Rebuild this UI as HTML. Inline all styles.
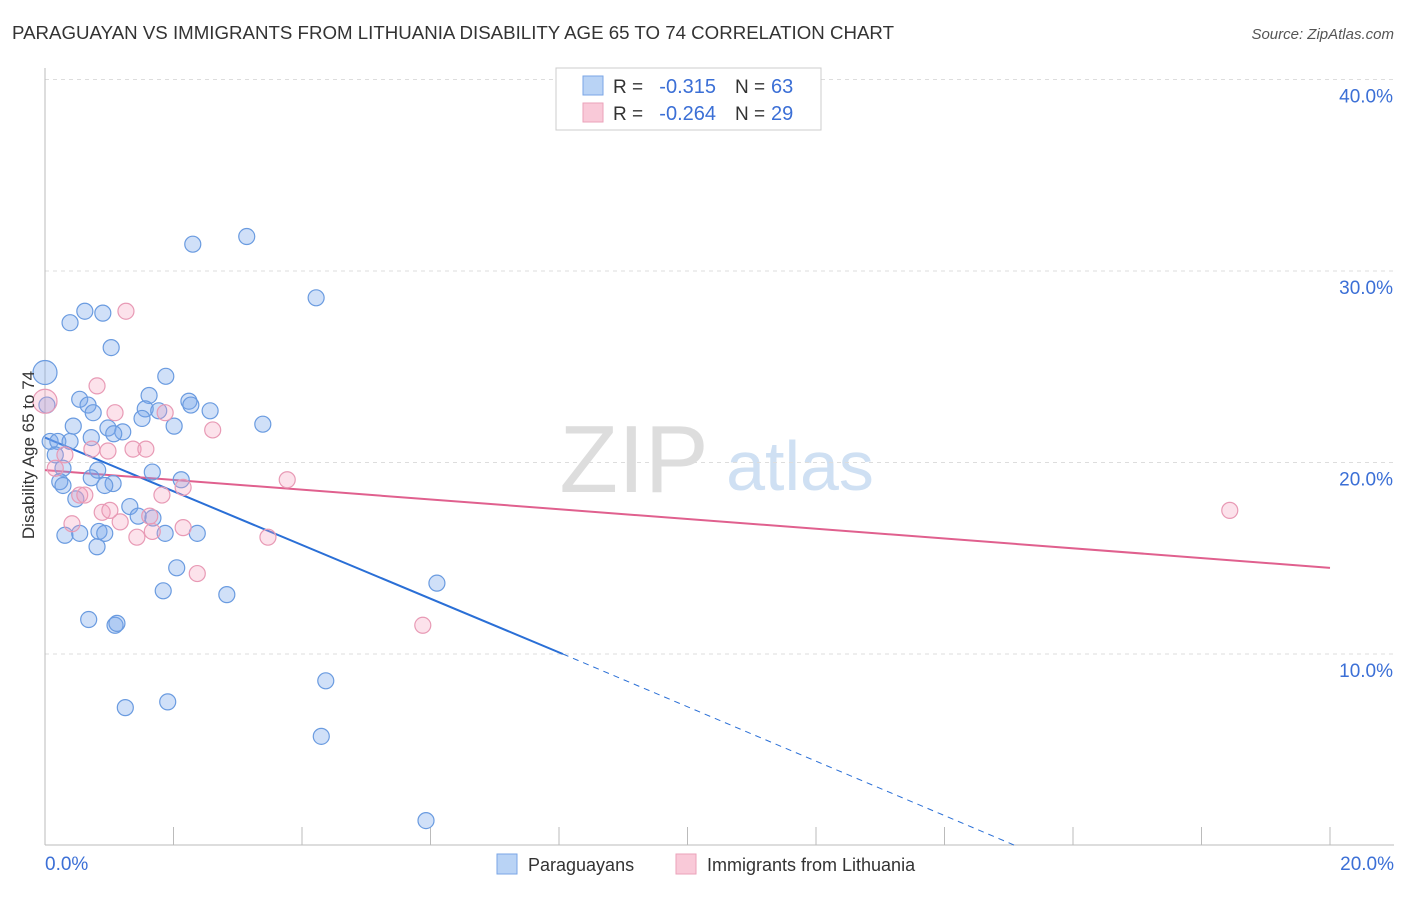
<!DOCTYPE html>
<html><head><meta charset="utf-8"><style>
body{margin:0;background:#fff;font-family:"Liberation Sans",sans-serif}
svg text{font-family:"Liberation Sans",sans-serif}
</style></head><body>
<svg id="chart" width="1406" height="892">
<text x="12" y="39" font-size="18" fill="#333" textLength="882" lengthAdjust="spacingAndGlyphs">PARAGUAYAN VS IMMIGRANTS FROM LITHUANIA DISABILITY AGE 65 TO 74 CORRELATION CHART</text>
<text x="1394" y="39" font-size="15" fill="#555" font-style="italic" text-anchor="end">Source: ZipAtlas.com</text>
<text x="634" y="492" font-size="96" fill="#ddd" font-family="Liberation Serif" text-anchor="middle">ZIP</text>
<text x="800" y="490" font-size="70" fill="#cfe0f3" text-anchor="middle">atlas</text>
<g id="grid"></g><g id="axes"></g><g id="trend"></g><g id="pts"></g>
<text transform="translate(34,455) rotate(-90)" font-size="17" fill="#333" text-anchor="middle">Disability Age 65 to 74</text>
<g>
<rect x="556" y="68" width="265" height="62" fill="#fff" stroke="#ccc"/>
<rect x="583" y="76" width="20" height="19" fill="#b9d3f5" stroke="#7aa6e6"/>
<rect x="583" y="103" width="20" height="19" fill="#f9c9d8" stroke="#eba2ba"/>
<text x="613" y="93" font-size="19" fill="#333">R =</text>
<text x="716" y="93" font-size="20" fill="#3b6fd6" text-anchor="end">-0.315</text>
<text x="735" y="93" font-size="19" fill="#333">N =</text>
<text x="771" y="93" font-size="20" fill="#3b6fd6">63</text>
<text x="613" y="120" font-size="19" fill="#333">R =</text>
<text x="716" y="120" font-size="20" fill="#3b6fd6" text-anchor="end">-0.264</text>
<text x="735" y="120" font-size="19" fill="#333">N =</text>
<text x="771" y="120" font-size="20" fill="#3b6fd6">29</text>
</g>
<g>
<rect x="497" y="854" width="20" height="20" fill="#b9d3f5" stroke="#7aa6e6"/>
<text x="528" y="871" font-size="18" fill="#333">Paraguayans</text>
<rect x="676" y="854" width="20" height="20" fill="#f9c9d8" stroke="#eba2ba"/>
<text x="707" y="871" font-size="18" fill="#333">Immigrants from Lithuania</text>
</g>
</svg>
<script>
const blueX=[0,0.03,0.08,0.2,0.39,0.28,0.23,0.39,0.62,0.9,1.03,0.44,0.54,0.67,0.75,0.72,0.98,1.21,0.82,1.06,0.93,0.48,0.31,0.54,0.84,0.93,0.81,1.32,1.45,1.68,1.87,1.67,1.62,1.88,1.56,1.51,1.77,2.01,2.24,2.27,2.57,2.12,2.37,2.05,1.84,2.83,0.68,1.09,1.12,1.25,1.91,3.39,2.3,3.14,4.22,6.1,4.37,4.3,5.93,0.16,1.07,0.28,0.72];
const blueY=[24.7,23.0,21.1,21.1,21.1,19.7,19.0,27.3,27.9,27.8,26.0,21.9,23.3,23.0,22.6,21.3,21.8,21.6,19.6,18.9,18.8,18.1,16.2,16.3,16.4,16.3,15.6,17.7,17.2,17.1,16.3,19.5,23.5,24.5,22.8,22.3,22.7,21.9,23.2,23.0,22.7,19.1,16.3,14.5,13.3,13.1,11.8,11.5,11.6,7.2,7.5,22.0,31.4,31.8,28.6,13.7,8.6,5.7,1.3,20.4,21.5,18.8,19.2];
const pinkX=[0,0.16,0.31,0.54,0.62,0.81,0.73,0.98,1.09,1.26,1.37,1.57,1.82,1.87,2.15,2.61,0.89,1.17,1.43,1.67,2.15,2.37,1.63,3.47,3.77,5.88,18.44,0.42,1.01];
const pinkY=[23.2,19.7,20.4,18.3,18.3,24.0,20.7,20.6,22.6,27.9,20.7,20.7,18.3,22.6,18.7,21.7,17.4,16.9,16.1,16.4,16.6,14.2,17.2,16.1,19.1,11.5,17.5,16.8,17.5];
const yTicks=[10,20,30,40];
const blueTrend=[[0,21.3],[8.06,10],[15.1,0]];
const pinkTrend=[[0,19.6],[20,14.5]];
const NS="http://www.w3.org/2000/svg";
const sx=v=>45+v*64.25, sy=v=>845.5-v*19.15;
function el(t,a,p){const e=document.createElementNS(NS,t);for(const k in a)e.setAttribute(k,a[k]);document.getElementById(p).appendChild(e);return e;}
yTicks.forEach(t=>{
 const g=el('line',{x1:45,x2:1394,y1:sy(t),y2:sy(t),stroke:'#ddd','stroke-dasharray':'4,4'},'grid');
 
 
 const tx=el('text',{x:1393,y:sy(t)+23,'font-size':19,fill:'#3b6fd6','text-anchor':'end'},'axes');
 tx.textContent=t.toFixed(1)+'%';
 
 
});
el('line',{x1:45,x2:45,y1:68,y2:845,stroke:'#bbb'},'axes');
el('line',{x1:45,x2:1394,y1:845,y2:845,stroke:'#bbb'},'axes');
for(let i=1;i<=10;i++){el('line',{x1:sx(i*2),x2:sx(i*2),y1:827,y2:845,stroke:'#bbb'},'axes');}
let t0=el('text',{x:45,y:870,'font-size':19,fill:'#3b6fd6'},'axes');t0.textContent='0.0%';


let t1=el('text',{x:1394,y:870,'font-size':19,fill:'#3b6fd6','text-anchor':'end'},'axes');t1.textContent='20.0%';


function pts(X,Y,f,s,name){X.forEach((x,i)=>{const c=el('circle',{cx:sx(x),cy:sy(Y[i]),r:i==0?12:8,fill:f,stroke:s,'stroke-width':1.2},'pts');
 
 });}
pts(blueX,blueY,'rgba(120,165,235,0.35)','#6a9be0','paraguayan-point');
pts(pinkX,pinkY,'rgba(245,160,190,0.3)','#e89ab5','lithuania-point');
let l1=el('line',{x1:sx(blueTrend[0][0]),y1:sy(blueTrend[0][1]),x2:sx(blueTrend[1][0]),y2:sy(blueTrend[1][1]),stroke:'#2a6fd6','stroke-width':2},'trend');


let l2=el('line',{x1:sx(blueTrend[1][0]),y1:sy(blueTrend[1][1]),x2:sx(blueTrend[2][0]),y2:sy(blueTrend[2][1]),stroke:'#2a6fd6','stroke-width':1,'stroke-dasharray':'6,5'},'trend');


let l3=el('line',{x1:sx(pinkTrend[0][0]),y1:sy(pinkTrend[0][1]),x2:sx(pinkTrend[1][0]),y2:sy(pinkTrend[1][1]),stroke:'#e0608e','stroke-width':2},'trend');


</script>
</body></html>
